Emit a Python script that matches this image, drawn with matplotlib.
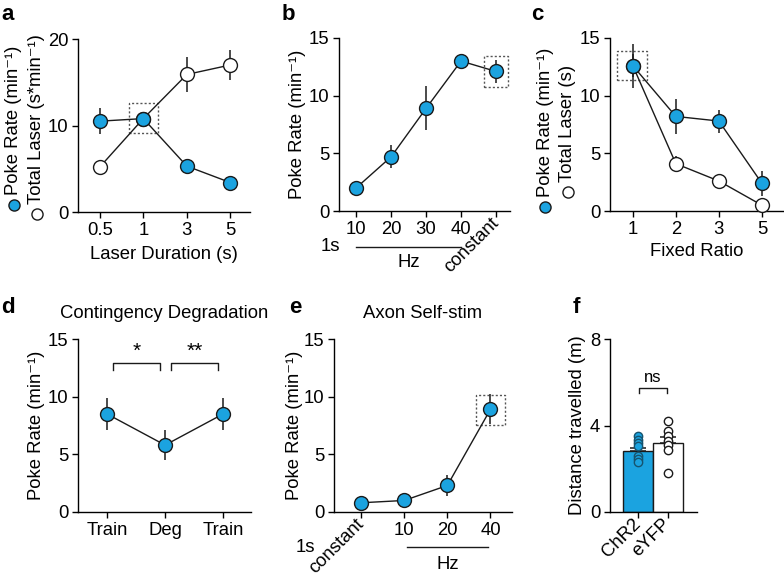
import matplotlib
matplotlib.use("Agg")
import matplotlib.pyplot as plt
from matplotlib.lines import Line2D
from matplotlib.patches import Rectangle
import matplotlib.transforms as mtrans

plt.rcParams['font.family'] = ['Liberation Sans', 'DejaVu Sans']
plt.rcParams['font.size'] = 13.3
plt.rcParams['axes.linewidth'] = 1.0
plt.rcParams['xtick.major.width'] = 1.0
plt.rcParams['ytick.major.width'] = 1.0
plt.rcParams['xtick.major.size'] = 4
plt.rcParams['ytick.major.size'] = 4

BLUE = '#1BA3E0'
EDGE = '#1a1a1a'

# ---------------- data ----------------
# a
a_cats = ['0.5', '1', '3', '5']
a_poke = [10.5, 10.8, 5.3, 3.4]
a_poke_err = [1.5, 0.5, 0.4, 0.3]
a_laser = [5.2, 10.8, 15.9, 17.0]
a_laser_err = [0.5, 0.5, 2.0, 1.7]
# b
b_cats = ['10', '20', '30', '40', 'constant']
b_poke = [2.0, 4.7, 8.9, 13.0, 12.1]
b_poke_err = [0.3, 1.0, 1.9, 0.4, 1.0]
# c
c_cats = ['1', '2', '3', '5']
c_poke = [12.6, 8.2, 7.8, 2.4]
c_poke_err = [1.9, 1.5, 1.0, 1.1]
c_laser = [12.6, 4.1, 2.6, 0.5]
c_laser_err = [1.0, 0.7, 0.3, 0.2]
# d
d_cats = ['Train', 'Deg', 'Train']
d_poke = [8.5, 5.8, 8.5]
d_poke_err = [1.4, 1.3, 1.4]
# e
e_cats = ['constant', '10', '20', '40']
e_poke = [0.8, 1.0, 2.3, 8.9]
e_poke_err = [0.2, 0.3, 0.9, 1.3]
# f
f_groups = ['ChR2', 'eYFP']
f_means = [2.8, 3.2]
f_sems = [0.18, 0.27]
f_chr2_pts = [3.5, 3.35, 3.2, 3.05, 2.6, 2.45, 2.3]
f_eyfp_pts = [4.2, 3.75, 3.5, 3.3, 3.1, 2.85, 1.8]

W, H = 784, 580
fig = plt.figure(figsize=(W / 100, H / 100), dpi=100)


def make_ax(left, right, top, bottom):
    ax = fig.add_axes([left / W, 1 - bottom / H, (right - left) / W, (bottom - top) / H])
    ax.spines['top'].set_visible(False)
    ax.spines['right'].set_visible(False)
    ax.tick_params(direction='out', length=4, pad=3)
    return ax


def series(ax, y, err, face, z=3):
    x = list(range(len(y)))
    ax.errorbar(x, y, yerr=err, fmt='none', ecolor=EDGE, elinewidth=1.1, capsize=0, zorder=z)
    ax.plot(x, y, '-', color=EDGE, lw=1.0, zorder=z)
    ax.plot(x, y, 'o', ms=10, mfc=face, mec=EDGE, mew=1.0, zorder=z + 0.5, clip_on=False)


def box(ax, x0, x1, y0, y1):
    ax.add_patch(Rectangle((x0, y0), x1 - x0, y1 - y0, fill=False, ls=(0, (1.5, 1.5)),
                           ec='#555555', lw=1.0, zorder=2))


def legend_label(xpx, ypx, text, face, text_bottom_px):
    fig.add_artist(Line2D([xpx / W], [1 - ypx / H], marker='o', ms=8, mfc=face, mec=EDGE,
                          mew=1.0, transform=fig.transFigure))
    fig.text(xpx / W, 1 - text_bottom_px / H, text, rotation=90, ha='center', va='bottom')


def rotate_label(lab):
    lab.set_rotation(45)
    lab.set_ha('right')
    lab.set_va('center')
    lab.set_rotation_mode('anchor')


# ---------------- a ----------------
ax = make_ax(78, 250, 39, 212)
series(ax, a_laser, a_laser_err, 'white', z=3)
series(ax, a_poke, a_poke_err, BLUE, z=4)
box(ax, 0.66, 1.33, 9.1, 12.6)
ax.set_xlim(-0.5, 3.45)
ax.set_ylim(0, 20)
ax.set_yticks([0, 10, 20])
ax.set_xticks(range(len(a_cats)))
ax.set_xticklabels(a_cats)
ax.set_xlabel('Laser Duration (s)', labelpad=5)
legend_label(14, 205, 'Poke Rate (min⁻¹)', BLUE, 195)
legend_label(37, 214, 'Total Laser (s*min⁻¹)', 'white', 204)

# ---------------- b ----------------
ax = make_ax(339, 510, 38, 211)
series(ax, b_poke, b_poke_err, BLUE)
box(ax, 3.66, 4.33, 10.75, 13.4)
ax.set_xlim(-0.49, 4.4)
ax.set_ylim(0, 15)
ax.set_yticks([0, 5, 10, 15])
ax.set_xticks(range(len(b_cats)))
ax.set_xticklabels(b_cats)
rotate_label(ax.get_xticklabels()[-1])
ax.text(-0.245, 0.5, 'Poke Rate (min⁻¹)', rotation=90, ha='center', va='center',
        transform=ax.transAxes)
tb = mtrans.blended_transform_factory(ax.transData, ax.transAxes)
ax.plot([0, 3], [-0.208, -0.208], color=EDGE, lw=1.0, transform=tb, clip_on=False)
ax.text(-0.75, -0.208, '1s', ha='center', va='center', transform=tb)
ax.text(1.5, -0.30, 'Hz', ha='center', va='center', transform=tb)

# ---------------- c ----------------
ax = make_ax(610, 783, 38, 211)
series(ax, c_laser, c_laser_err, 'white', z=3)
series(ax, c_poke, c_poke_err, BLUE, z=4)
box(ax, -0.37, 0.33, 11.4, 13.9)
ax.set_xlim(-0.53, 3.49)
ax.set_ylim(0, 15)
ax.set_yticks([0, 5, 10, 15])
ax.set_xticks(range(len(c_cats)))
ax.set_xticklabels(c_cats)
ax.set_xlabel('Fixed Ratio', labelpad=4)
legend_label(545, 207, 'Poke Rate (min⁻¹)', BLUE, 197)
legend_label(568, 192, 'Total Laser (s)', 'white', 182)

# ---------------- d ----------------
ax = make_ax(78, 251, 339, 512)
series(ax, d_poke, d_poke_err, BLUE)
ax.set_xlim(-0.5, 2.48)
ax.set_ylim(0, 15)
ax.set_yticks([0, 5, 10, 15])
ax.set_xticks(range(len(d_cats)))
ax.set_xticklabels(d_cats)
ax.text(-0.237, 0.5, 'Poke Rate (min⁻¹)', rotation=90, ha='center', va='center',
        transform=ax.transAxes)
ax.text(0.5, 1.15, 'Contingency Degradation', ha='center', va='center', transform=ax.transAxes)
for (x0, x1, s) in [(0.1, 0.91, '*'), (1.1, 1.91, '**')]:
    ax.plot([x0, x0, x1, x1], [12.3, 12.9, 12.9, 12.3], color=EDGE, lw=1.0, clip_on=False)
    ax.text((x0 + x1) / 2, 13.1, s, ha='center', va='bottom', fontsize=15)

# ---------------- e ----------------
ax = make_ax(334, 512, 339, 512)
series(ax, e_poke, e_poke_err, BLUE)
box(ax, 2.67, 3.33, 7.55, 10.15)
ax.set_xlim(-0.63, 3.5)
ax.set_ylim(0, 15)
ax.set_yticks([0, 5, 10, 15])
ax.set_xticks(range(len(e_cats)))
ax.set_xticklabels(e_cats)
rotate_label(ax.get_xticklabels()[0])
ax.text(-0.22, 0.5, 'Poke Rate (min⁻¹)', rotation=90, ha='center', va='center',
        transform=ax.transAxes)
ax.text(0.5, 1.15, 'Axon Self-stim', ha='center', va='center', transform=ax.transAxes)
tb = mtrans.blended_transform_factory(ax.transData, ax.transAxes)
ax.plot([1.07, 2.95], [-0.205, -0.205], color=EDGE, lw=1.0, transform=tb, clip_on=False)
ax.text(-1.3, -0.208, '1s', ha='center', va='center', transform=tb)
ax.text(2.0, -0.306, 'Hz', ha='center', va='center', transform=tb)

# ---------------- f ----------------
ax = make_ax(610, 697, 339, 512)
xs = list(range(len(f_groups)))
ax.bar(xs, f_means, width=1.0, color=[BLUE, 'white'], edgecolor=EDGE, linewidth=1.0, zorder=2)
ax.errorbar(xs, f_means, yerr=[[0, 0], f_sems], fmt='none', ecolor=EDGE, elinewidth=1.1,
            capsize=6, capthick=1.1, zorder=2.5)
ax.plot([0] * len(f_chr2_pts), f_chr2_pts, 'o', ms=6, mfc=BLUE, mec='#16536e', mew=1.0, zorder=3)
ax.plot([1] * len(f_eyfp_pts), f_eyfp_pts, 'o', ms=6, mfc='white', mec=EDGE, mew=1.0, zorder=3)
ax.set_xlim(-0.93, 1.97)
ax.set_ylim(0, 8)
ax.set_yticks([0, 4, 8])
ax.set_xticks(xs)
ax.set_xticklabels(f_groups)
for lab in ax.get_xticklabels():
    rotate_label(lab)
ax.text(-0.37, 0.5, 'Distance travelled (m)', rotation=90, ha='center', va='center',
        transform=ax.transAxes)
ax.plot([0.03, 0.03, 0.97, 0.97], [5.5, 5.75, 5.75, 5.5], color=EDGE, lw=1.0)
ax.text(0.5, 5.85, 'ns', ha='center', va='bottom', fontsize=12)

# ---------------- panel letters ----------------
for (x, y, s) in [(1, 4, 'a'), (282, 4, 'b'), (531, 4, 'c'),
                  (1, 297, 'd'), (289, 297, 'e'), (573, 297, 'f')]:
    fig.text(x / W, 1 - y / H, s, fontsize=16, fontweight='bold', ha='left', va='top')

fig.savefig('out.png', dpi=100)
